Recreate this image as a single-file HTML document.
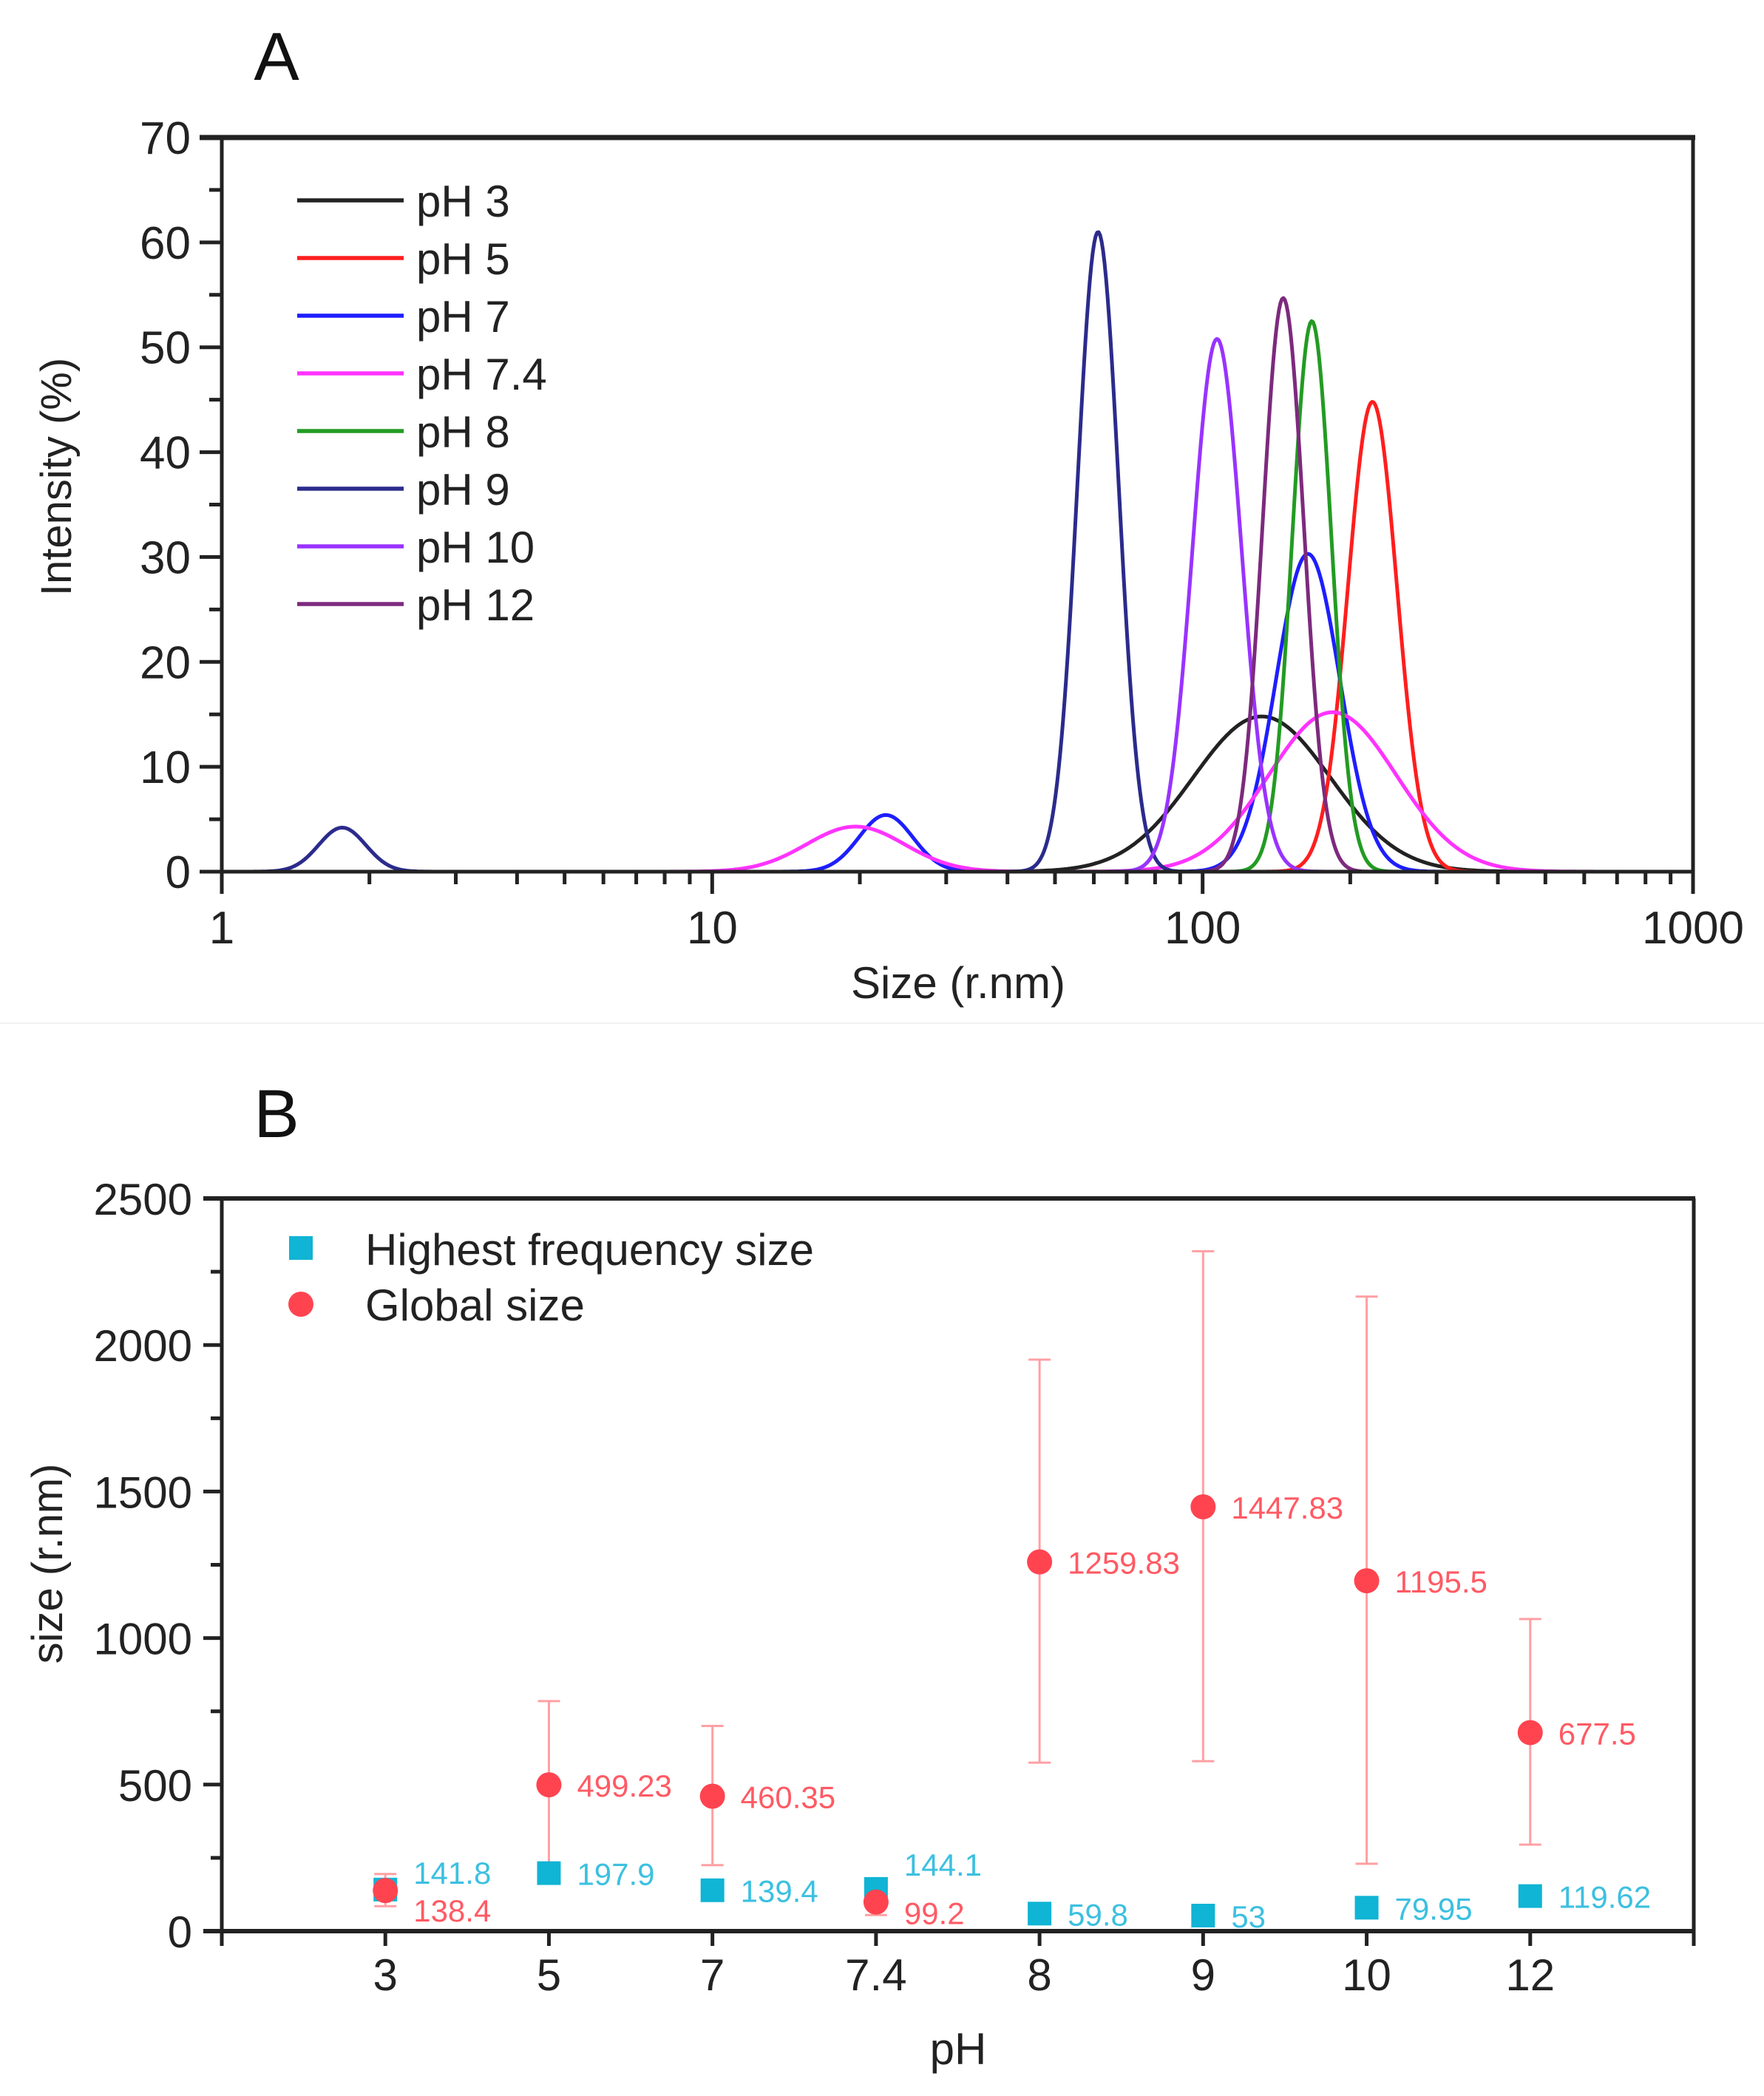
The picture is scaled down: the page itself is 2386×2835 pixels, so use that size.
<!DOCTYPE html>
<html><head><meta charset="utf-8"><style>
html,body{margin:0;padding:0;background:#fff;}
svg{display:block;font-family:"Liberation Sans",Arial,sans-serif;}
</style></head><body>
<svg id="fig" width="2386" height="2835" viewBox="0 0 2386 2835" xmlns="http://www.w3.org/2000/svg">
<rect x="0" y="0" width="2386" height="2835" fill="#fff"/>
<line x1="0" y1="1384" x2="2386" y2="1384" stroke="#f2f2f2" stroke-width="2"/>
<g id="chartA"></g>
<g id="chartB"></g>
</svg>
<script>
// ---------- Chart A data ----------
const seriesNames = ["pH 3","pH 5","pH 7","pH 7.4","pH 8","pH 9","pH 10","pH 12"];
const seriesColors = ["#222222","#ff1e1e","#1e1eff","#ff33ff","#239b23","#2b2b8c","#9933ff","#7d2a7d"];
// peaks per series: centre size (nm), peak intensity (%), log10 width (sigma)
const peakCenters = [[132],[222],[164,22.6],[184,19.6],[167],[61.2,1.76],[107],[146]];
const peakHeights = [[14.8],[44.8],[30.3,5.4],[15.2,4.3],[52.5],[61.0,4.2],[50.8],[54.7]];
const peakWidths  = [[0.14],[0.05],[0.065,0.055],[0.13,0.1],[0.04],[0.042,0.048],[0.05],[0.042]];
const yTicksA = [0,10,20,30,40,50,60,70];
const xTicksA = [1,10,100,1000];

// ---------- Chart B data ----------
const phLabels = ["3","5","7","7.4","8","9","10","12"];
const globalSize = [138.4,499.23,460.35,99.2,1259.83,1447.83,1195.5,677.5];
const globalLow  = [85,215,225,55,575,580,230,295];
const globalHigh = [195,785,700,145,1950,2320,2165,1065];
const freqSize   = [141.8,197.9,139.4,144.1,59.8,53,79.95,119.62];
const globalText = ["138.4","499.23","460.35","99.2","1259.83","1447.83","1195.5","677.5"];
const freqText   = ["141.8","197.9","139.4","144.1","59.8","53","79.95","119.62"];
const yTicksB = [0,500,1000,1500,2000,2500];

const NS="http://www.w3.org/2000/svg";
function mk(parent,tag,attrs,text){const e=document.createElementNS(NS,tag);for(const k in attrs)e.setAttribute(k,attrs[k]);if(text!==undefined)e.textContent=text;parent.appendChild(e);return e;}

// ===== Chart A =====
const A=document.getElementById('chartA');
const aL=300,aR=2290,aT=186,aB=1179;
const xA=v=>aL+(Math.log10(v)-0)/3*(aR-aL);
const yA=v=>aB-(v/70)*(aB-aT);
let t=mk(A,'text',{x:374,y:108,'font-size':92,'text-anchor':'middle',fill:'#111'},'A');


const curveG=mk(A,'g',{});


seriesNames.forEach((n,i)=>{
  let d='';
  for(let px=aL;px<=aR;px+=2){
    const lx=(px-aL)/(aR-aL)*3;
    let v=0;
    peakCenters[i].forEach((c,j)=>{const z=(lx-Math.log10(c))/peakWidths[i][j];v+=peakHeights[i][j]*Math.exp(-0.5*z*z);});
    d+=(d?'L':'M')+px+','+yA(v).toFixed(1);
  }
  const p=mk(curveG,'path',{d:d,fill:'none',stroke:seriesColors[i],'stroke-width':5,'stroke-linejoin':'round'});
  
  
});
mk(A,'line',{x1:aL-30,y1:aT,x2:aR+3,y2:aT,stroke:'#222','stroke-width':7});
mk(A,'line',{x1:aL,y1:aT,x2:aL,y2:aB+30,stroke:'#222','stroke-width':5});
mk(A,'line',{x1:aL-30,y1:aB,x2:aR,y2:aB,stroke:'#222','stroke-width':5});
mk(A,'line',{x1:aR,y1:aT,x2:aR,y2:aB+30,stroke:'#222','stroke-width':5});
yTicksA.forEach(v=>{
  mk(A,'line',{x1:aL-30,y1:yA(v),x2:aL,y2:yA(v),stroke:'#222','stroke-width':5});
  if(v<70) mk(A,'line',{x1:aL-17,y1:yA(v+5),x2:aL,y2:yA(v+5),stroke:'#222','stroke-width':5});
  const e=mk(A,'text',{x:aL-42,y:yA(v)+22,'font-size':62,'text-anchor':'end',fill:'#222'},String(v));
  
  
});
xTicksA.forEach((v,k)=>{
  mk(A,'line',{x1:xA(v),y1:aB,x2:xA(v),y2:aB+30,stroke:'#222','stroke-width':5});
  if(k<3){for(let m=2;m<=9;m++)mk(A,'line',{x1:xA(v*m),y1:aB,x2:xA(v*m),y2:aB+17,stroke:'#222','stroke-width':5});}
  const e=mk(A,'text',{x:xA(v),y:aB+97,'font-size':62,'text-anchor':'middle',fill:'#222'},String(v));
  
  
});
t=mk(A,'text',{x:1296,y:1350,'font-size':60,'text-anchor':'middle',fill:'#222'},'Size (r.nm)');


t=mk(A,'text',{x:0,y:0,'font-size':58,'text-anchor':'middle',fill:'#222',transform:'translate(96,645) rotate(-90)'},'Intensity (%)');


seriesNames.forEach((n,i)=>{
  const y=271+i*78;
  const g=mk(A,'g',{});
  
  
  mk(g,'line',{x1:402,y1:y,x2:546,y2:y,stroke:seriesColors[i],'stroke-width':5.5});
  mk(g,'text',{x:563,y:y+22,'font-size':60,fill:'#222'},n);
});

// ===== Chart B =====
const B=document.getElementById('chartB');
const bL=300,bR=2291,bT=1621,bB=2612,step=(bR-bL)/9;
const xB=i=>bL+step*(i+1);
const yB=v=>bB-v/2500*(bB-bT);
t=mk(B,'text',{x:374,y:1538,'font-size':92,'text-anchor':'middle',fill:'#111'},'B');


mk(B,'line',{x1:bL-25,y1:bT,x2:bR+2,y2:bT,stroke:'#222','stroke-width':6});
mk(B,'line',{x1:bL,y1:bT,x2:bL,y2:bB+20,stroke:'#222','stroke-width':5});
mk(B,'line',{x1:bL-25,y1:bB,x2:bR,y2:bB,stroke:'#222','stroke-width':6});
mk(B,'line',{x1:bR,y1:bT,x2:bR,y2:bB+20,stroke:'#222','stroke-width':5});
yTicksB.forEach(v=>{
  mk(B,'line',{x1:bL-25,y1:yB(v),x2:bL,y2:yB(v),stroke:'#222','stroke-width':5});
  if(v<2500) mk(B,'line',{x1:bL-15,y1:yB(v+250),x2:bL,y2:yB(v+250),stroke:'#222','stroke-width':5});
  const e=mk(B,'text',{x:bL-40,y:yB(v)+22,'font-size':60,'text-anchor':'end',fill:'#222'},String(v));
  
  
});
phLabels.forEach((l,i)=>{
  mk(B,'line',{x1:xB(i),y1:bB,x2:xB(i),y2:bB+20,stroke:'#222','stroke-width':5});
  const e=mk(B,'text',{x:xB(i),y:bB+80,'font-size':60,'text-anchor':'middle',fill:'#222'},l);
  
  
});
t=mk(B,'text',{x:1296,y:2792,'font-size':60,'text-anchor':'middle',fill:'#222'},'pH');


t=mk(B,'text',{x:0,y:0,'font-size':58,'text-anchor':'middle',fill:'#222',transform:'translate(84,2115) rotate(-90)'},'size (r.nm)');


globalSize.forEach((v,i)=>{
  const g=mk(B,'g',{stroke:'#ffa0a4','stroke-width':3});
  
  
  mk(g,'line',{x1:xB(i),y1:yB(globalLow[i]),x2:xB(i),y2:yB(globalHigh[i])});
  mk(g,'line',{x1:xB(i)-15,y1:yB(globalLow[i]),x2:xB(i)+15,y2:yB(globalLow[i])});
  mk(g,'line',{x1:xB(i)-15,y1:yB(globalHigh[i]),x2:xB(i)+15,y2:yB(globalHigh[i])});
});
freqSize.forEach((v,i)=>{
  const r=mk(B,'rect',{x:xB(i)-16,y:yB(v)-16,width:32,height:32,fill:'#10b4d4'});
  
  
  let lx=xB(i)+38,ly=yB(v)+16;
  if(i===0){ly=yB(v)-8;}
  if(i===3){ly=yB(v)-18;}
  const e=mk(B,'text',{x:lx,y:ly,'font-size':42,fill:'#3cc0e0'},freqText[i]);
  
  
});
globalSize.forEach((v,i)=>{
  const c=mk(B,'circle',{cx:xB(i),cy:yB(v),r:17,fill:'#ff4450'});
  
  
  let lx=xB(i)+38,ly=yB(v)+16;
  if(i===0){ly=yB(v)+42;}
  if(i===3){ly=yB(v)+30;}
  const e=mk(B,'text',{x:lx,y:ly,'font-size':42,fill:'#ff5a64'},globalText[i]);
  
  
});
let lg=mk(B,'g',{});


mk(lg,'rect',{x:391,y:1672,width:32,height:32,fill:'#10b4d4'});
mk(lg,'text',{x:494,y:1711,'font-size':60,fill:'#222'},'Highest frequency size');
lg=mk(B,'g',{});


mk(lg,'circle',{cx:407,cy:1764,r:17,fill:'#ff4450'});
mk(lg,'text',{x:494,y:1786,'font-size':60,fill:'#222'},'Global size');
</script>
</body></html>
